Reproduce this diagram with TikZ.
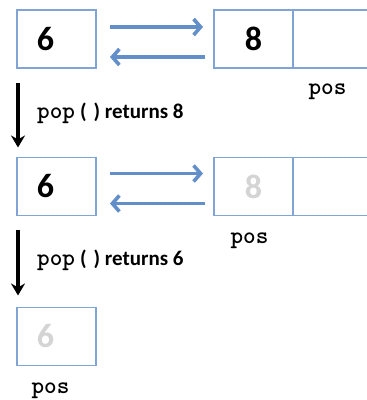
\documentclass[tikz,border=0pt]{standalone}
\usepackage{fontspec}
\usetikzlibrary{arrows.meta,positioning}
\newfontfamily\digitfont{Carlito}
\definecolor{boxblue}{RGB}{128,164,214}
\definecolor{linkblue}{RGB}{98,142,202}
\definecolor{ghost}{RGB}{212,212,212}
\begin{document}
\begin{tikzpicture}[
        x=1pt, y=-1pt,
        cell/.style={draw=boxblue, line width=1.4pt, minimum width=79pt, minimum height=58pt,
          inner sep=0pt, outer sep=0pt, font=\fontsize{34}{40}\selectfont\digitfont\bfseries},
        lcell/.style={cell, text width=39pt, inner xsep=20pt, align=left},
        link/.style={linkblue, line width=3.8pt, -{Straight Barb[length=7pt, width=16pt, line width=3.6pt]}},
        step arrow/.style={black, line width=3.2pt, -{Stealth[length=12pt, width=14pt]}},
        ptr/.style={font=\fontsize{24}{26}\selectfont\ttfamily\bfseries},
        op/.style={anchor=west, inner sep=0pt},
      ]
        \useasboundingbox (0,0) rectangle (367,400);

        % first state: 6 and 8
        \node[lcell] (a1) at (56.5, 39) {6};
        \node[cell] (b1) at (253.5, 39) {8};
        \node[cell, minimum width=81pt, anchor=west] (e1) at (b1.east) {};
        \node[ptr] (p1) at ([xshift=-6pt, yshift=-24pt]e1.south) {pos};
        \draw[link, shorten <=14pt, shorten >=11pt] ([yshift=12pt]a1.east) -- ([yshift=12pt]b1.west);
        \draw[link, shorten <=9pt, shorten >=14pt] ([yshift=-18pt]b1.west) -- ([yshift=-18pt]a1.east);

        % second state: 8 popped
        \node[lcell] (a2) at (56.5, 186.5) {6};
        \node[cell, text=ghost] (b2) at (253.5, 186.5) {8};
        \node[cell, minimum width=81pt, anchor=west] (e2) at (b2.east) {};
        \node[ptr] (p2) at ([xshift=-4pt, yshift=-25pt]b2.south) {pos};
        \draw[link, shorten <=14pt, shorten >=11pt] ([yshift=13pt]a2.east) -- ([yshift=13pt]b2.west);
        \draw[link, shorten <=9pt, shorten >=14pt] ([yshift=-17pt]b2.west) -- ([yshift=-17pt]a2.east);

        % third state: 6 popped
        \node[lcell, text=ghost] (a3) at (56.5, 336.5) {6};
        \node[ptr] (p3) at ([xshift=-6pt, yshift=-25pt]a3.south) {pos};

        % pop steps
        \draw[step arrow, shorten <=15pt, shorten >=10pt] ([xshift=1pt]a1.south west) -- ([xshift=1pt]a2.north west);
        \node[op] (op1) at (37, 113) {{\fontsize{24}{26}\selectfont\ttfamily\bfseries pop}\hspace{5pt}{\fontsize{21}{24}\selectfont\digitfont\bfseries (\hspace{7pt}) returns 8}};
        \draw[step arrow, shorten <=14pt, shorten >=12pt] ([xshift=1pt]a2.south west) -- ([xshift=1pt]a3.north west);
        \node[op] (op2) at (37, 260) {{\fontsize{24}{26}\selectfont\ttfamily\bfseries pop}\hspace{5pt}{\fontsize{21}{24}\selectfont\digitfont\bfseries (\hspace{7pt}) returns 6}};
      \end{tikzpicture}
\end{document}
